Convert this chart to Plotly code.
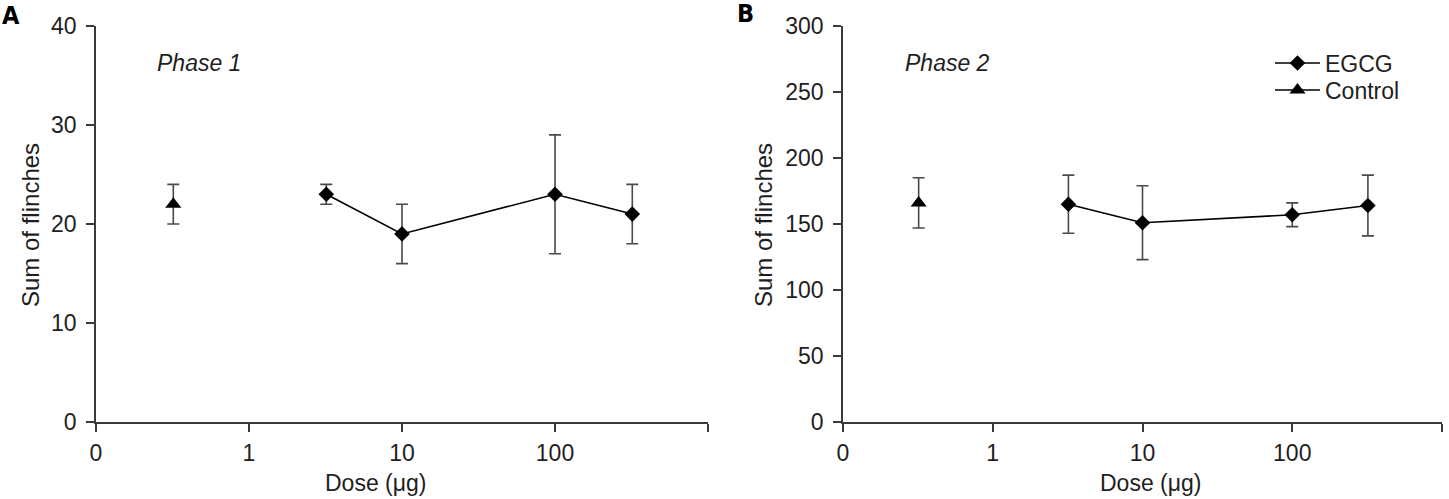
import plotly.graph_objects as go

# ---------------- data ----------------
control_dose = [0.32]            # control plotted left of the dose axis
egcg_dose = [3.2, 10, 100, 320]  # µg

p1_control_mean = [22]
p1_control_err = [2]
p1_egcg_mean = [23, 19, 23, 21]
p1_egcg_err = [1, 3, 6, 3]

p2_control_mean = [166]
p2_control_err = [19]
p2_egcg_mean = [165, 151, 157, 164]
p2_egcg_err = [22, 28, 9, 23]

x_tickvals = [0.1, 1, 10, 100, 1000]
x_ticktext = ["0", "1", "10", "100", ""]

FONT = "Liberation Sans, Arial, sans-serif"
FS = 23
AXC = "#3a3a3a"
ERRC = "#4a4a4a"
TXT = "#1e1e1e"

fig = go.Figure()

def add_panel(xa, ya, c_mean, c_err, e_mean, e_err, legend):
    fig.add_trace(go.Scatter(
        x=egcg_dose, y=e_mean, xaxis=xa, yaxis=ya, name="EGCG",
        mode="lines+markers", showlegend=legend, legend="legend",
        line=dict(color="black", width=1.6),
        marker=dict(symbol="diamond", size=12, color="black"),
        error_y=dict(type="data", array=e_err, visible=True, color=ERRC,
                     thickness=1.6, width=6),
    ))
    fig.add_trace(go.Scatter(
        x=control_dose, y=c_mean, xaxis=xa, yaxis=ya, name="Control",
        mode="lines+markers", showlegend=legend, legend="legend2",
        line=dict(color="black", width=1.6),
        marker=dict(symbol="triangle-up", size=14, color="black"),
        error_y=dict(type="data", array=c_err, visible=True, color=ERRC,
                     thickness=1.6, width=6),
    ))

add_panel("x", "y", p1_control_mean, p1_control_err, p1_egcg_mean, p1_egcg_err, False)
add_panel("x2", "y2", p2_control_mean, p2_control_err, p2_egcg_mean, p2_egcg_err, True)

W, H = 1449, 499
ydom = [1 - 422 / H, 1 - 26 / H]

xcommon = dict(type="log", range=[-1, 3], tickvals=x_tickvals, ticktext=x_ticktext,
               showline=True, linecolor=AXC, linewidth=1.6, ticks="outside",
               ticklen=8, tickwidth=1.6, tickcolor=AXC, showgrid=False,
               zeroline=False, ticklabelstandoff=2, automargin=False,
               tickfont=dict(family=FONT, size=FS, color=TXT))
ycommon = dict(showline=True, linecolor=AXC, linewidth=1.6, ticks="outside",
               ticklen=8, tickwidth=1.6, tickcolor=AXC, showgrid=False,
               zeroline=False, ticklabelstandoff=5, automargin=False,
               tickfont=dict(family=FONT, size=FS, color=TXT))

leg = dict(xanchor="left", yanchor="middle", itemwidth=45,
           font=dict(family=FONT, size=FS, color=TXT),
           bgcolor="rgba(0,0,0,0)", tracegroupgap=0)

fig.update_layout(
    width=W, height=H,
    margin=dict(l=0, r=0, t=0, b=0, autoexpand=False),
    paper_bgcolor="white", plot_bgcolor="white",
    xaxis=dict(domain=[96 / W, 708 / W], anchor="y", **xcommon),
    yaxis=dict(domain=ydom, anchor="x", range=[0, 40], dtick=10, **ycommon),
    xaxis2=dict(domain=[843 / W, 1442 / W], anchor="y2", **xcommon),
    yaxis2=dict(domain=ydom, anchor="x2", range=[0, 300], dtick=50, **ycommon),
    legend=dict(x=1270 / W, y=1 - 63 / H, **leg),
    legend2=dict(x=1270 / W, y=1 - 90 / H, **leg),
    showlegend=True,
)

LBL = "Liberation Sans Narrow, DejaVu Sans Condensed, sans-serif"
ann = [
    dict(text="A", x=11 / W, y=1 - 15 / H, font=dict(family=LBL, size=25, color="black", weight="bold")),
    dict(text="B", x=745 / W, y=1 - 13 / H, font=dict(family=LBL, size=25, color="black", weight="bold")),
    dict(text="<i>Phase 1</i>", x=199 / W, y=1 - 63 / H, font=dict(family=FONT, size=FS, color=TXT)),
    dict(text="<i>Phase 2</i>", x=947 / W, y=1 - 63 / H, font=dict(family=FONT, size=FS, color=TXT)),
    dict(text="Sum of flinches", x=30 / W, y=1 - 225 / H, textangle=-90, font=dict(family=FONT, size=24, color=TXT)),
    dict(text="Sum of flinches", x=763 / W, y=1 - 225 / H, textangle=-90, font=dict(family=FONT, size=24, color=TXT)),
]
for a in ann:
    fig.add_annotation(xref="paper", yref="paper", showarrow=False,
                       xanchor="center", yanchor="middle", **a)

for xc in (375, 1150):
    fig.add_annotation(xref="paper", yref="paper", showarrow=False,
                       text="Dose (\u03bcg)", x=xc / W, y=0, xanchor="center",
                       yanchor="bottom", yshift=1,
                       font=dict(family=FONT, size=23, color=TXT))

fig.write_html("out.html")
